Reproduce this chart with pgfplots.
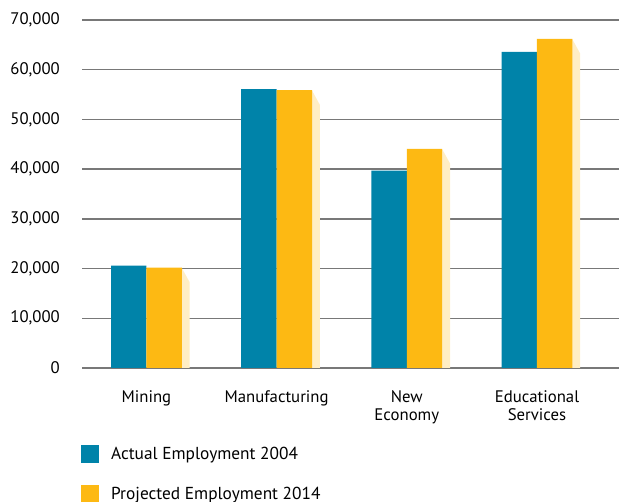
\documentclass[border=0pt]{standalone}
\usepackage{pgfplots}
\pgfplotsset{compat=1.18}
\usepackage{fontspec}
\setmainfont{PT Sans}
\definecolor{teal1}{RGB}{0,131,169}
\definecolor{gold1}{RGB}{253,185,19}
\definecolor{shade1}{RGB}{255,238,196}
\definecolor{gridc}{RGB}{120,120,120}
\begin{document}
\begin{tikzpicture}
\useasboundingbox (0,0) rectangle (619bp,502bp);
\begin{axis}[
  at={(82bp,134bp)}, anchor=south west,
  scale only axis, width=537bp, height=348bp,
  xmin=-0.495, xmax=3.63, ymin=0, ymax=70000,
  xtick={0,1,2,3},
  xticklabels={Mining,Manufacturing,{New\\Economy},{Educational\\Services}},
  xticklabel style={align=center, anchor=north, inner sep=0pt, yshift=-22.5bp},
  ytick={0,10000,...,70000},
  yticklabel style={anchor=east, inner sep=0pt, xshift=-22bp},
  scaled y ticks=false,
  /pgf/number format/1000 sep={,},
  /pgf/number format/assume math mode=true,
  ymajorgrids, grid style={draw=gridc, line width=1.4bp},
  axis line style={draw=none},
  major tick length=0pt,
  tick style={draw=none},
  font=\fontsize{16.8}{18}\selectfont,
  legend style={at={(-0.002,-0.22)}, anchor=north west, draw=none, fill=none,
    inner sep=0pt, row sep=22bp, column sep=12bp,
    nodes={inner sep=0pt, anchor=west}, font=\fontsize{17.4}{18}\selectfont},
  legend cell align=left,
  legend image code/.code={\fill[#1] (0bp,-9bp) rectangle (18bp,9bp);},
]
% shadows behind projected bars
\addplot[fill=shade1, draw=none, forget plot] coordinates {(0.27,0) (0.27,20200) (0.332,17250) (0.332,0)} -- cycle;
\addplot[fill=shade1, draw=none, forget plot] coordinates {(1.27,0) (1.27,55900) (1.332,52950) (1.332,0)} -- cycle;
\addplot[fill=shade1, draw=none, forget plot] coordinates {(2.27,0) (2.27,44100) (2.332,41150) (2.332,0)} -- cycle;
\addplot[fill=shade1, draw=none, forget plot] coordinates {(3.27,0) (3.27,66200) (3.332,63250) (3.332,0)} -- cycle;
\addplot[ybar, bar width=0.272, bar shift=-0.136, fill=teal1, draw=none]
  coordinates {(0,20600) (1,56100) (2,39700) (3,63600)};
\addlegendentry{Actual Employment 2004}
\addplot[ybar, bar width=0.272, bar shift=0.136, fill=gold1, draw=none]
  coordinates {(0,20200) (1,55900) (2,44100) (3,66200)};
\addlegendentry{Projected Employment 2014}
\end{axis}
\end{tikzpicture}
\end{document}
